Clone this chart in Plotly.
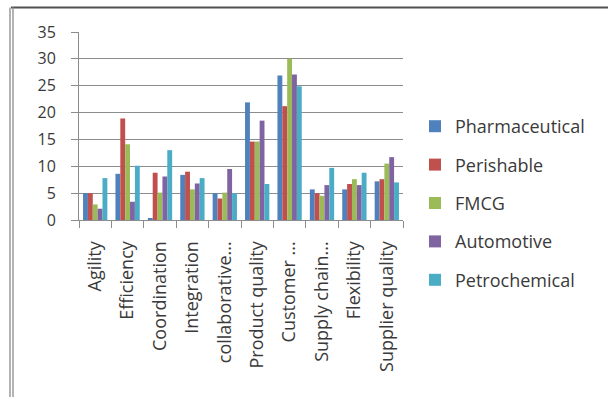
import plotly.graph_objects as go

categories = ["Agility", "Efficiency", "Coordination", "Integration", "collaborative...",
              "Product quality", "Customer ...", "Supply chain...", "Flexibility", "Supplier quality"]

pharmaceutical = [5.0, 8.6, 0.2, 8.4, 5.0, 21.9, 26.9, 5.7, 5.7, 7.2]
perishable     = [5.0, 18.9, 8.8, 9.0, 4.0, 14.6, 21.2, 5.0, 6.7, 7.6]
fmcg           = [2.9, 14.1, 5.1, 5.7, 5.1, 14.6, 30.0, 4.5, 7.6, 10.5]
automotive     = [2.1, 3.4, 8.1, 6.8, 9.5, 18.5, 27.1, 6.5, 6.5, 11.7]
petrochemical  = [7.8, 10.1, 13.0, 7.8, 5.0, 6.7, 24.9, 9.7, 8.8, 7.0]

series_names = ["Pharmaceutical", "Perishable", "FMCG", "Automotive", "Petrochemical"]
series_values = [pharmaceutical, perishable, fmcg, automotive, petrochemical]
colors = ["#4F81BD", "#C0504D", "#9BBB59", "#8064A2", "#4BACC6"]

y_ticks = [0, 5, 10, 15, 20, 25, 30, 35]

W, H = 608, 397
L, R, T, B = 79, 403, 32, 220  # plot area pixel box
pw, ph = R - L, B - T

def px_x(x):
    return (x - L) / pw

def px_y(y):
    return (B - y) / ph

fig = go.Figure()
for i, (name, vals, col) in enumerate(zip(series_names, series_values, colors)):
    fig.add_trace(go.Bar(
        x=categories, y=vals, name=name,
        marker=dict(color=col, line=dict(width=0)),
        legendgroup=f"g{i}",
    ))

font_family = "Open Sans, sans-serif"
text_col = "#3a3a3a"

fig.update_layout(
    width=W, height=H,
    margin=dict(l=L, r=W - R, t=T, b=H - B, autoexpand=False),
    paper_bgcolor="white", plot_bgcolor="white",
    barmode="group", bargap=0.25, bargroupgap=0,
    font=dict(family=font_family, color=text_col),
    showlegend=True,
    legend=dict(
        x=px_x(415), xanchor="left",
        y=px_y(108), yanchor="top",
        font=dict(size=18, family=font_family, color=text_col),
        tracegroupgap=12,
        maxheight=380,
        bgcolor="rgba(0,0,0,0)",
    ),
    xaxis=dict(
        type="category",
        tickangle=-90,
        tickfont=dict(size=18, family=font_family, color=text_col),
        ticks="outside", ticklen=7, tickcolor="#8c8c8c", tickson="boundaries",
        showline=True, linecolor="#8c8c8c", linewidth=1,
        showgrid=False,
        ticklabelstandoff=13,
        fixedrange=True,
    ),
    yaxis=dict(
        range=[0, 35],
        tickvals=y_ticks,
        tickfont=dict(size=16, family=font_family, color=text_col),
        ticks="outside", ticklen=7, tickcolor="#8c8c8c",
        showline=True, linecolor="#8c8c8c", linewidth=1,
        showgrid=True, gridcolor="#8c8c8c", gridwidth=1,
        zeroline=False,
        ticklabelstandoff=12,
        fixedrange=True,
    ),
    shapes=[
        dict(type="line", xref="paper", yref="paper",
             x0=px_x(11), x1=px_x(W + 5), y0=px_y(7.5), y1=px_y(7.5),
             line=dict(color="#505050", width=2)),
        dict(type="line", xref="paper", yref="paper",
             x0=px_x(10), x1=px_x(10), y0=px_y(7.5), y1=px_y(H + 5),
             line=dict(color="#9a9a9a", width=1.5)),
        dict(type="line", xref="paper", yref="paper",
             x0=px_x(13), x1=px_x(13), y0=px_y(7.5), y1=px_y(H + 5),
             line=dict(color="#9a9a9a", width=1.5)),
    ],
)

fig.write_html("out.html")
